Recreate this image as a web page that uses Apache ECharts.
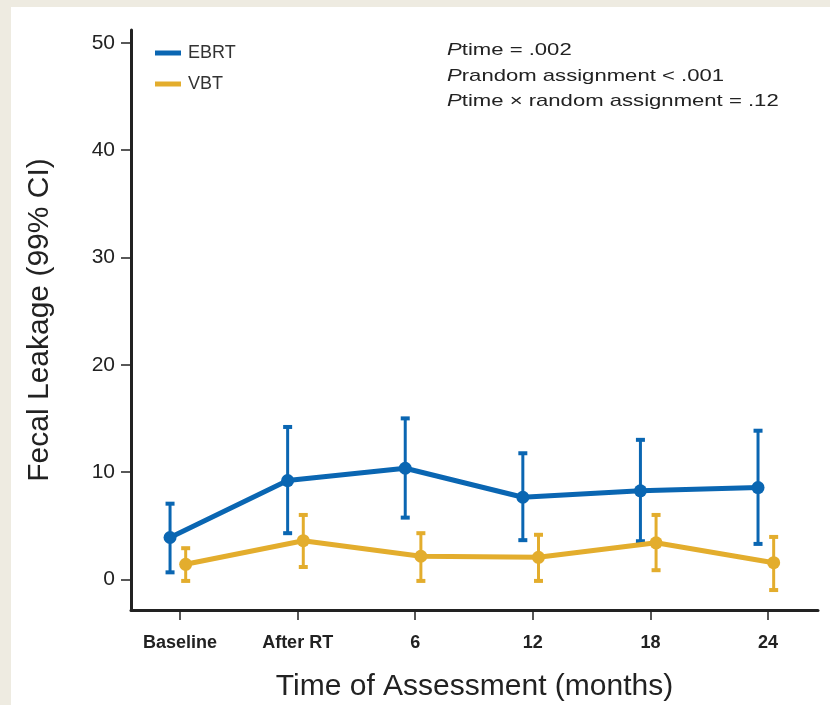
<!DOCTYPE html>
<html>
<head>
<meta charset="utf-8">
<script src="https://cdn.jsdelivr.net/npm/echarts@6/dist/echarts.min.js"></script>
<style>
  html, body { margin: 0; padding: 0; background: #eeebe1; }
  #chart { width: 830px; height: 705px; }
</style>
</head>
<body>
<div id="chart"></div>
<script>
// Assessment time points
const categories = ['Baseline', 'After RT', '6', '12', '18', '24'];

// EBRT: mean and 99% CI bounds
const ebrtMean = [3.9, 9.2, 10.35, 7.65, 8.25, 8.55];
const ebrtLow  = [0.65, 4.3, 5.75, 3.65, 3.55, 3.3];
const ebrtHigh = [7.05, 14.2, 15.0, 11.75, 13.0, 13.85];

// VBT: mean and 99% CI bounds
const vbtMean = [1.4, 3.6, 2.15, 2.05, 3.4, 1.55];
const vbtLow  = [-0.15, 1.15, -0.15, -0.15, 0.85, -1.0];
const vbtHigh = [2.9, 6.0, 4.3, 4.15, 6.0, 3.95];

const yTicks = [0, 10, 20, 30, 40, 50];

const BLUE = '#0a66b2';
const GOLD = '#e3ad2d';
const SANS = '"Liberation Sans", Arial, sans-serif';

// small horizontal dodge so the two groups don't overlap
const DODGE_EBRT = -0.085;
const DODGE_VBT = 0.048;

function points(mean, dodge) {
  return mean.map((v, i) => [i + dodge, v]);
}
function ciRows(low, high, dodge) {
  return low.map((lo, i) => [i + dodge, lo, high[i]]);
}

function errorBar(color) {
  return function (params, api) {
    const x = api.value(0);
    const lo = api.coord([x, api.value(1)]);
    const hi = api.coord([x, api.value(2)]);
    const half = 4.5;
    const style = { stroke: color, lineWidth: 3 };
    const cap = { stroke: color, lineWidth: 4 };
    return {
      type: 'group',
      children: [
        { type: 'line', shape: { x1: lo[0], y1: lo[1], x2: hi[0], y2: hi[1] }, style: style },
        { type: 'line', shape: { x1: lo[0] - half, y1: lo[1], x2: lo[0] + half, y2: lo[1] }, style: cap },
        { type: 'line', shape: { x1: hi[0] - half, y1: hi[1], x2: hi[0] + half, y2: hi[1] }, style: cap }
      ]
    };
  };
}

const chart = echarts.init(document.getElementById('chart'), null, { renderer: 'canvas' });

chart.setOption({
  backgroundColor: '#eeebe1',
  animation: false,
  graphic: [
    { type: 'rect', z: -10, shape: { x: 11, y: 7, width: 830, height: 705 }, style: { fill: '#ffffff' } },
    {
      type: 'text', x: 447, y: 38, scaleX: 1.3, z: 10,
      style: {
        text: '{p|P}time = .002\n{p|P}random assignment < .001\n{p|P}time × random assignment = .12',
        font: '17px "Liberation Sans", Arial, sans-serif',
        fill: '#222',
        lineHeight: 25.5,
        rich: { p: { fontStyle: 'italic', fontSize: 17, fill: '#222' } }
      }
    }
  ],
  legend: {
    left: 150, top: 39,
    orient: 'vertical',
    itemGap: 13,
    itemWidth: 26, itemHeight: 5,
    icon: 'rect',
    textStyle: { fontFamily: SANS, fontSize: 18, color: '#333', padding: [0, 0, 0, 2] },
    data: ['EBRT', 'VBT']
  },
  grid: { left: 131, right: 12, top: 30, bottom: 95, containLabel: false, outerBoundsMode: 'none' },
  xAxis: {
    type: 'value',
    min: -0.417, max: 5.425,
    splitLine: { show: false },
    axisLine: { show: true, onZero: false, lineStyle: { color: '#222', width: 3 } },
    axisTick: { show: true, length: 10, customValues: [0, 1, 2, 3, 4, 5], lineStyle: { color: '#222', width: 1.5 } },
    axisLabel: {
      customValues: [0, 1, 2, 3, 4, 5],
      formatter: v => categories[Math.round(v)],
      margin: 24,
      fontFamily: SANS, fontWeight: 'bold', fontSize: 18, color: '#222'
    },
    name: 'Time of Assessment (months)',
    nameLocation: 'middle',
    nameGap: 62,
    nameTextStyle: { fontFamily: SANS, fontSize: 30, color: '#222' }
  },
  yAxis: {
    type: 'value',
    min: -2.86, max: 51.2,
    splitLine: { show: false },
    axisLine: { show: true, onZero: false, lineStyle: { color: '#222', width: 3 } },
    axisTick: { show: true, length: 10, customValues: yTicks, lineStyle: { color: '#222', width: 1.5 } },
    axisLabel: {
      customValues: yTicks,
      margin: 16,
      fontFamily: SANS, fontSize: 21, color: '#222'
    },
    name: 'Fecal Leakage (99% CI)',
    nameLocation: 'middle',
    nameGap: 76,
    nameTextStyle: { fontFamily: SANS, fontSize: 30, color: '#222' }
  },
  series: [
    {
      name: 'EBRT CI', type: 'custom', z: 3,
      renderItem: errorBar(BLUE),
      encode: { x: 0, y: [1, 2] },
      data: ciRows(ebrtLow, ebrtHigh, DODGE_EBRT)
    },
    {
      name: 'VBT CI', type: 'custom', z: 3,
      renderItem: errorBar(GOLD),
      encode: { x: 0, y: [1, 2] },
      data: ciRows(vbtLow, vbtHigh, DODGE_VBT)
    },
    {
      name: 'EBRT', type: 'line', z: 4,
      data: points(ebrtMean, DODGE_EBRT),
      color: BLUE,
      lineStyle: { color: BLUE, width: 5 },
      symbol: 'circle', symbolSize: 13,
      itemStyle: { color: BLUE }
    },
    {
      name: 'VBT', type: 'line', z: 4,
      data: points(vbtMean, DODGE_VBT),
      color: GOLD,
      lineStyle: { color: GOLD, width: 5 },
      symbol: 'circle', symbolSize: 13,
      itemStyle: { color: GOLD }
    }
  ]
});
</script>
</body>
</html>
